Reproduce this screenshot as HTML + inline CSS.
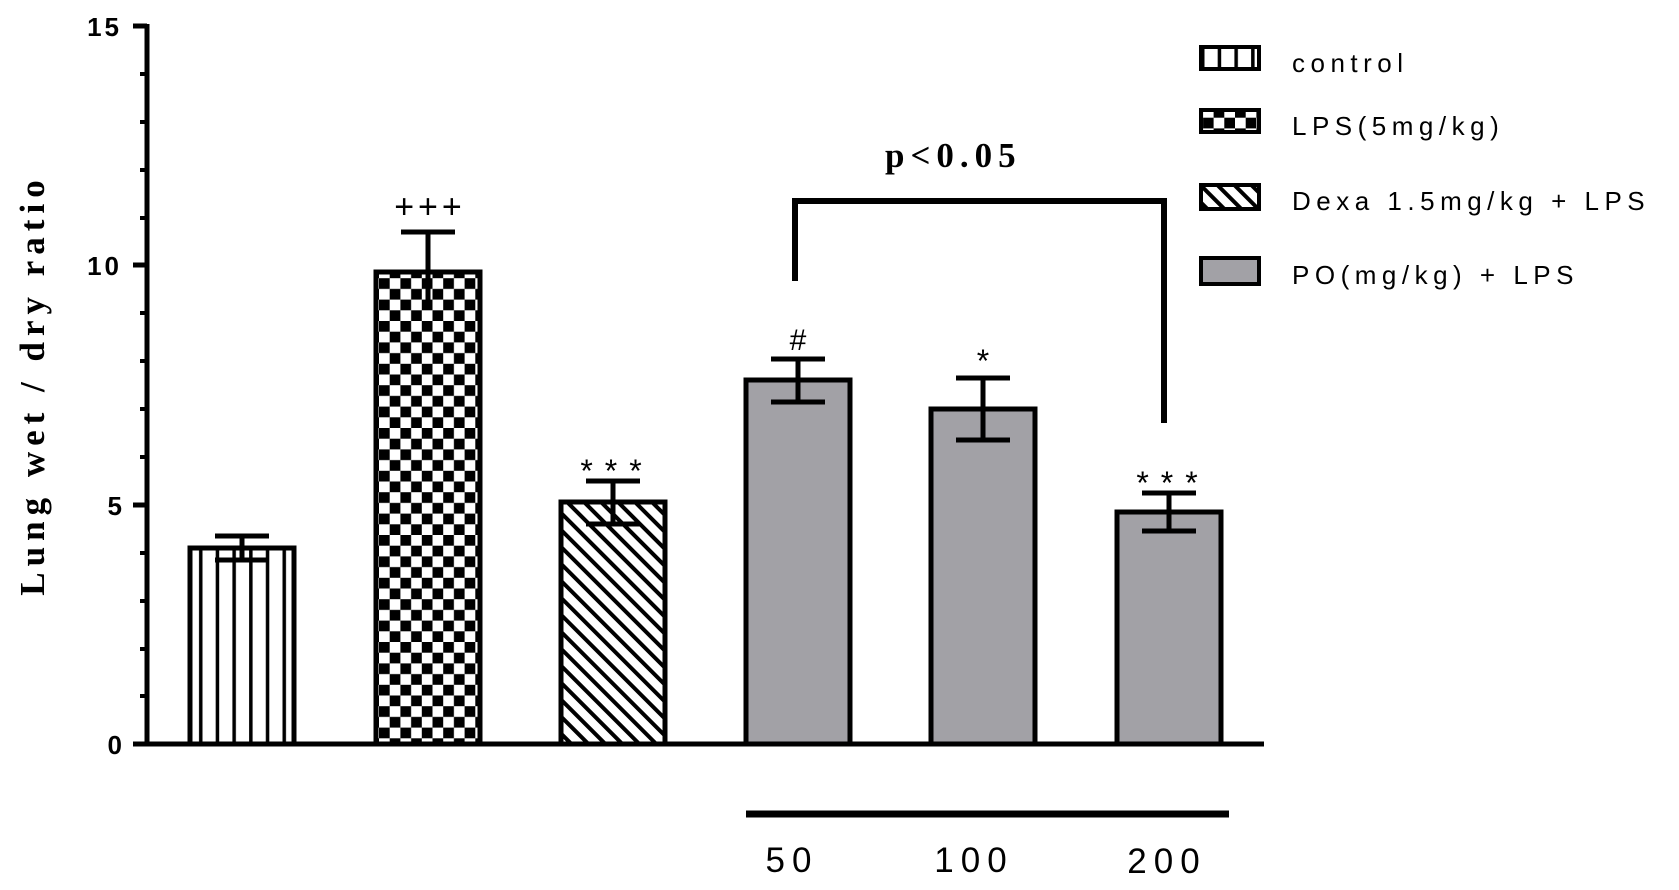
<!DOCTYPE html>
<html><head><meta charset="utf-8"><style>
html,body{margin:0;padding:0;background:#fff;}
svg{display:block;}
.t{font-family:"Liberation Sans",Arial,sans-serif;}
.s{font-family:"Liberation Serif","Times New Roman",serif;font-weight:bold;}
</style></head><body>
<svg width="1679" height="890" viewBox="0 0 1679 890" xmlns="http://www.w3.org/2000/svg">
<defs>
<pattern id="vs" patternUnits="userSpaceOnUse" width="16.7" height="10" x="193">
<rect x="6" y="0" width="3.5" height="10" fill="#000"/>
</pattern>
<pattern id="ck" patternUnits="userSpaceOnUse" width="21.4" height="21.4" x="379" y="0">
<rect width="21.4" height="21.4" fill="#fff"/>
<rect x="0" y="0" width="10.7" height="10.7" fill="#000"/>
<rect x="10.7" y="10.7" width="10.7" height="10.7" fill="#000"/>
</pattern>
<pattern id="dg" patternUnits="userSpaceOnUse" width="12" height="12" patternTransform="rotate(45)">
<rect width="12" height="12" fill="#fff"/>
<rect x="0" y="0" width="12" height="4" fill="#000"/>
</pattern>
</defs>
<g stroke="#000" stroke-width="5" fill="none">
<rect x="190" y="548" width="104" height="196" fill="url(#vs)"/>
<rect x="376" y="272" width="104" height="472" fill="url(#ck)"/>
<rect x="561" y="502" width="104" height="242" fill="url(#dg)"/>
<rect x="746" y="380" width="104" height="364" fill="#a2a1a6"/>
<rect x="931" y="409" width="104" height="335" fill="#a2a1a6"/>
<rect x="1117" y="512" width="104" height="232" fill="#a2a1a6"/>
</g>
<g stroke="#000" stroke-width="5">
<line x1="242" y1="536" x2="242" y2="560"/><line x1="215" y1="536" x2="269" y2="536"/><line x1="215" y1="560" x2="269" y2="560"/>
<line x1="428" y1="232" x2="428" y2="310"/><line x1="401" y1="232" x2="455" y2="232"/>
<line x1="613" y1="481" x2="613" y2="524"/><line x1="586" y1="481" x2="640" y2="481"/><line x1="586" y1="524" x2="640" y2="524"/>
<line x1="798" y1="359" x2="798" y2="402"/><line x1="771" y1="359" x2="825" y2="359"/><line x1="771" y1="402" x2="825" y2="402"/>
<line x1="983" y1="378" x2="983" y2="440"/><line x1="956" y1="378" x2="1010" y2="378"/><line x1="956" y1="440" x2="1010" y2="440"/>
<line x1="1169" y1="493" x2="1169" y2="531"/><line x1="1142" y1="493" x2="1196" y2="493"/><line x1="1142" y1="531" x2="1196" y2="531"/>
<line x1="147" y1="24" x2="147" y2="746"/>
<line x1="133" y1="744" x2="1264" y2="744"/>
<line x1="133" y1="26" x2="147" y2="26"/>
<line x1="133" y1="265" x2="147" y2="265"/>
<line x1="133" y1="505" x2="147" y2="505"/>
</g>
<g stroke="#000" stroke-width="4">
<line x1="140" y1="74" x2="147" y2="74"/><line x1="140" y1="122" x2="147" y2="122"/><line x1="140" y1="170" x2="147" y2="170"/><line x1="140" y1="218" x2="147" y2="218"/>
<line x1="140" y1="313" x2="147" y2="313"/><line x1="140" y1="361" x2="147" y2="361"/><line x1="140" y1="409" x2="147" y2="409"/><line x1="140" y1="457" x2="147" y2="457"/>
<line x1="140" y1="553" x2="147" y2="553"/><line x1="140" y1="601" x2="147" y2="601"/><line x1="140" y1="649" x2="147" y2="649"/><line x1="140" y1="696" x2="147" y2="696"/>
</g>
<path d="M795 281 V201 H1164 V423" stroke="#000" stroke-width="6" fill="none"/>
<line x1="746" y1="814" x2="1229" y2="814" stroke="#000" stroke-width="7"/>
<g class="t" font-size="26" font-weight="bold" text-anchor="end" fill="#000">
<text x="122" y="36" letter-spacing="3">15</text>
<text x="122" y="275" letter-spacing="3">10</text>
<text x="122" y="515">5</text>
<text x="122" y="754">0</text>
</g>
<text class="s" font-size="35" letter-spacing="6" text-anchor="middle" transform="translate(44,385) rotate(-90)">Lung wet / dry ratio</text>
<text class="s" font-size="35" letter-spacing="6" x="885" y="167">p&lt;0.05</text>
<g class="t" font-size="35" letter-spacing="7" text-anchor="middle">
<text x="792" y="872">50</text>
<text x="974" y="872">100</text>
<text x="1167" y="873">200</text>
</g>
<g class="t" text-anchor="middle">
<text x="430" y="218" font-size="34" letter-spacing="4">+++</text>
<text x="617" y="482" font-size="32" letter-spacing="12">***</text>
<text x="798" y="350" font-size="30">#</text>
<text x="983" y="372" font-size="32">*</text>
<text x="1173" y="494" font-size="32" letter-spacing="12">***</text>
</g>
<g stroke="#000" stroke-width="4">
<rect x="1201" y="47" width="58" height="22" fill="url(#vs)"/>
<rect x="1201" y="110" width="58" height="22" fill="url(#ck)"/>
<rect x="1201" y="185" width="58" height="24" fill="url(#dg)"/>
<rect x="1201" y="258" width="58" height="26" fill="#a2a1a6"/>
</g>
<g class="t" font-size="26" letter-spacing="5.5" fill="#000">
<text x="1292" y="72">control</text>
<text x="1292" y="135">LPS(5mg/kg)</text>
<text x="1292" y="210">Dexa 1.5mg/kg + LPS</text>
<text x="1292" y="284">PO(mg/kg) + LPS</text>
</g>
</svg>
</body></html>
